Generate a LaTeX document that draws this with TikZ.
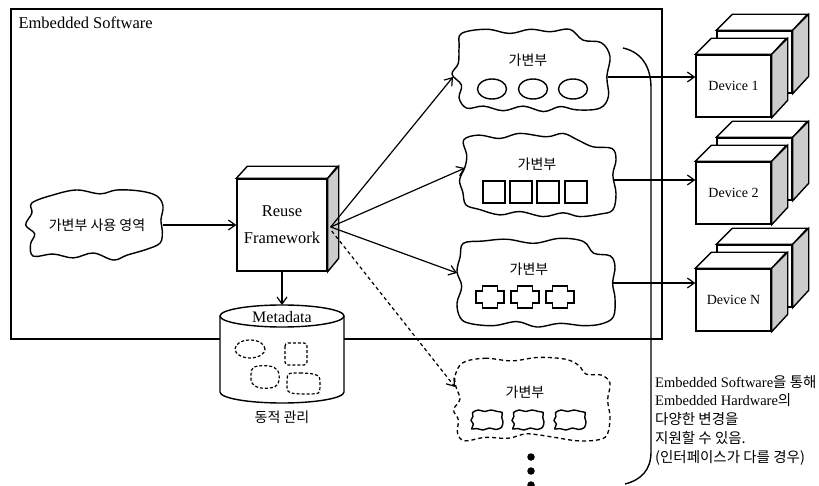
\documentclass[tikz,border=0pt]{standalone}
\usepackage{fontspec}
\setmainfont{Liberation Serif}
\newfontfamily\kr{Noto Sans CJK KR}
\usetikzlibrary{arrows.meta,calc,shapes.geometric}

\tikzset{
  ln/.style={line width=1.4pt},
  arr/.style={line width=1.2pt, -{Straight Barb[length=7pt,width=10pt,line width=1.2pt]}},
  darr/.style={arr, dash pattern=on 3.5pt off 3pt},
  solidcloud/.style={line width=1.4pt},
  dashcloud/.style={line width=1.3pt, dash pattern=on 4pt off 3pt},
  spot/.style={line width=1.2pt, dash pattern=on 3pt off 2pt},
  hold/.style={inner sep=0pt, outer sep=0pt},
  krlabel/.style={font=\kr\fontsize{14}{16}\selectfont},
  face/.style={draw, ln, fill=white},
  side/.style={draw, ln, fill=gray!40},
  unit/.style={face, inner sep=0pt, minimum width=75pt, minimum height=62pt,
               font=\fontsize{14}{16}\selectfont},
}

% wobbly outline around a helper node, points given in a unit box
\newcommand\cloudat[5]{%
  \begin{scope}[shift={(#2.center)}, xscale=#3, yscale=#4]
    \draw[#1] plot[smooth cycle, tension=0.6] coordinates {#5};
  \end{scope}}

% a stacked pair of boxes: name, centre x, centre y, label
\newcommand\devstack[4]{%
  \node[unit] (#1r) at ({#2+21},{#3-24}) {};
  \draw[face] (#1r.north west) -- ++(16,-16) -- ++(75,0) -- (#1r.north east) -- cycle;
  \draw[side] (#1r.north east) -- ++(16,-16) -- ++(0,62) -- (#1r.south east) -- cycle;
  \node[unit] (#1) at (#2,#3) {#4};
  \draw[face] (#1.north west) -- ++(16,-16) -- ++(75,0) -- (#1.north east) -- cycle;
  \draw[side] (#1.north east) -- ++(16,-16) -- ++(0,62) -- (#1.south east) -- cycle;
}

\newcommand\K[1]{{\kr\fontsize{14.5}{18.8}\selectfont #1}}

\begin{document}
\begin{tikzpicture}[x=1pt, y=-1pt]
\useasboundingbox (0,0) rectangle (819,486);

% software boundary
\node[draw, ln, hold, anchor=north west, minimum width=651pt, minimum height=330pt] (esw) at (11,9) {};
\node[anchor=west, font=\fontsize{16.5}{19}\selectfont] (eswlabel) at (15,23) {Embedded Software};

% usage area
\node[hold, minimum width=138pt, minimum height=70pt] (lc) at (94,225) {};
\cloudat{solidcloud}{lc}{69}{35}{(-0.90,-0.63) (-0.59,-0.86) (-0.25,-1.0) (0.09,-0.89) (0.33,-1.0) (0.67,-0.97) (0.91,-0.83) (1.0,-0.54) (0.97,-0.14) (0.99,0.17) (0.96,0.51) (0.77,0.69) (0.48,0.86) (0.28,1.0) (-0.01,0.80) (-0.30,0.94) (-0.59,0.83) (-0.88,0.89) (-0.92,0.55) (-0.86,0.25) (-0.99,0.0) (-0.90,-0.34)}
\node[krlabel] (lct) at ($(lc.center)+(3,0)$) {가변부 사용 영역};

% framework box
\node[face, align=center, minimum width=90pt, minimum height=92pt, inner sep=0pt,
      font=\fontsize{16.5}{27}\selectfont] (rf) at (282,225) {Reuse\\Framework};
\draw[face] (rf.north west) -- ++(11,-12) -- ++(90,0) -- (rf.north east) -- cycle;
\draw[side] (rf.north east) -- ++(11,-12) -- ++(0,92) -- (rf.south east) -- cycle;

% metadata store
\fill[white] (220,316) -- (220,392) arc[start angle=180, end angle=360, x radius=62pt, y radius=11pt] -- (344,316) -- cycle;
\draw[ln] (220,316) -- (220,392) arc[start angle=180, end angle=360, x radius=62pt, y radius=11pt] -- (344,316);
\node[ellipse, draw, ln, fill=white, hold, minimum width=124pt, minimum height=22pt] (md) at (282,316) {};
\node[font=\fontsize{16}{18}\selectfont] (mdt) at (282,317) {Metadata};
\draw[spot] (250,349) ellipse [x radius=15pt, y radius=9pt];
\draw[spot, rounded corners=3pt] (285,343) rectangle (307,365);
\begin{scope}[shift={(265,377)}, xscale=14, yscale=11]
  \draw[spot] plot[smooth cycle, tension=0.6] coordinates {(-0.8,-0.9) (0.3,-1) (0.9,-0.6) (1,0.3) (0.7,0.9) (-0.3,1) (-0.9,0.6) (-1,-0.2)};
\end{scope}
\begin{scope}[shift={(303.5,383.5)}, xscale=16.5, yscale=10.5]
  \draw[spot] plot[smooth cycle, tension=0.5] coordinates {(-0.9,-0.9) (-0.2,-1) (0.6,-0.9) (0.95,-0.6) (1,0.2) (0.9,0.9) (0.2,1) (-0.6,0.95) (-0.95,0.7) (-1,-0.1)};
\end{scope}
\node[krlabel] (mdlabel) at (282,417) {동적 관리};

% variable parts
\node[hold, minimum width=158pt, minimum height=84pt] (v1) at (531,70) {};
\cloudat{solidcloud}{v1}{79}{42}{(-0.88,-0.87) (-0.56,-0.97) (-0.27,-0.87) (-0.01,-0.97) (0.24,-0.91) (0.49,-0.97) (0.66,-0.71) (0.89,-0.65) (1.0,-0.32) (0.96,0.16) (0.98,0.63) (0.87,0.91) (0.58,0.95) (0.37,0.87) (0.16,0.99) (-0.10,0.86) (-0.35,0.97) (-0.60,0.86) (-0.81,0.91) (-0.91,0.67) (-0.88,0.36) (-1.0,0.10) (-0.92,-0.16) (-0.91,-0.56)}
\node[krlabel] (v1t) at ($(v1.center)+(-3,-10)$) {가변부};
\foreach \dx in {-39,2,42}
  \draw[ln] ($(v1.center)+(\dx,19)$) ellipse [x radius=14.5pt, y radius=10pt];

\node[hold, minimum width=158pt, minimum height=84pt] (v2) at (537,175) {};
\cloudat{solidcloud}{v2}{79}{42}{(-0.93,-0.83) (-0.74,-0.95) (-0.47,-0.87) (-0.22,-0.99) (0.12,-0.91) (0.33,-0.99) (0.52,-0.83) (0.71,-0.67) (0.95,-0.63) (1.0,-0.36) (0.96,0.0) (1.0,0.44) (0.96,0.83) (0.80,0.93) (0.54,0.99) (0.33,0.90) (0.08,0.99) (-0.22,0.87) (-0.47,0.95) (-0.73,0.82) (-0.90,0.71) (-0.94,0.40) (-0.98,0.12) (-0.91,-0.20) (-0.89,-0.48)}
\node[krlabel] (v2t) at ($(v2.center)+(0,-11)$) {가변부};
\foreach \dx in {-43,-16,11,39}
  \draw[ln] ($(v2.center)+(\dx-11,6)$) rectangle ++(22,22);

\node[hold, minimum width=158pt, minimum height=90pt] (v3) at (536,282) {};
\cloudat{solidcloud}{v3}{79}{45}{(-0.92,-0.86) (-0.67,-0.91) (-0.37,-0.95) (-0.03,-0.86) (0.30,-0.97) (0.60,-0.90) (0.73,-0.64) (0.94,-0.58) (1.0,-0.34) (0.97,0.03) (1.0,0.36) (0.98,0.77) (0.83,0.93) (0.60,0.97) (0.30,0.92) (0.01,1.0) (-0.24,0.88) (-0.54,0.97) (-0.84,0.92) (-0.96,0.79) (-1.0,0.47) (-0.94,0.10) (-1.0,-0.23) (-0.96,-0.56)}
\node[krlabel] (v3t) at ($(v3.center)+(-7,-13)$) {가변부};
\foreach \dx in {-46,-11,24}
  \draw[line width=1.5pt, shift={($(v3.center)+(\dx,15)$)}]
    (-7.5,-11) -- (7.5,-11) -- (7.5,-6) -- (14,-6) -- (14,6) -- (7.5,6) -- (7.5,11)
    -- (-7.5,11) -- (-7.5,6) -- (-14,6) -- (-14,-6) -- (-7.5,-6) -- cycle;

\node[hold, minimum width=158pt, minimum height=86pt] (v4) at (531,400) {};
\cloudat{dashcloud}{v4}{79}{43}{(-0.86,-0.87) (-0.58,-0.97) (-0.24,-0.91) (0.09,-0.99) (0.43,-0.95) (0.60,-0.81) (0.70,-0.60) (0.89,-0.58) (1.0,-0.39) (0.97,0.0) (1.0,0.39) (0.97,0.78) (0.87,0.92) (0.60,0.95) (0.30,0.87) (0.09,0.81) (-0.08,0.79) (-0.29,0.89) (-0.58,0.87) (-0.84,0.95) (-0.93,0.77) (-0.92,0.46) (-0.98,0.23) (-0.90,-0.02) (-0.95,-0.31) (-0.96,-0.57)}
\node[krlabel] (v4t) at ($(v4.center)+(-6,-8)$) {가변부};
\foreach \dx in {-44,-3,39} {
  \begin{scope}[shift={($(v4.center)+(\dx,20)$)}, xscale=16, yscale=10]
    \draw[ln] plot[smooth cycle, tension=0.5] coordinates {(-0.9,-0.75) (-0.55,-1.0) (-0.15,-0.85) (0.25,-1.0) (0.65,-0.85) (0.95,-0.75) (0.92,-0.25) (1.0,0.2) (0.9,0.75) (0.55,0.95) (0.15,0.8) (-0.25,1.0) (-0.65,0.85) (-0.95,0.9) (-0.85,0.4) (-1.0,0.05) (-0.88,-0.35)};
  \end{scope}}
\foreach \n/\yy in {1/457,2/471,3/485}
  \node[circle, fill, inner sep=0pt, minimum size=7.5pt] (more\n) at (531,\yy) {};

% hardware units
\devstack{d1}{733.5}{86}{Device 1}
\devstack{d2}{733.5}{193}{Device 2}
\devstack{dn}{733.5}{300}{Device N}

% connectors
\draw[arr] (lc.east) -- (rf.west);
\draw[arr] (rf.south) -- (md.north);
\draw[arr] ($(rf.east)+(3,2)$) -- ($(v1.center)+(-78,7)$);
\draw[arr] ($(rf.east)+(3,2)$) -- ($(v2.center)+(-72,-7)$);
\draw[arr] ($(rf.east)+(3,2)$) -- ($(v3.center)+(-79,-9)$);
\draw[darr] ($(rf.east)+(4,6)$) -- ($(v4.center)+(-76,-13)$);
\draw[arr] ($(v1.center)+(77,7)$) -- ($(d1.west)+(0,-9)$);
\draw[arr] ($(v2.center)+(77,5)$) -- ($(d2.west)+(0,-13)$);
\draw[arr] ($(v3.center)+(77,1)$) -- ($(dn.west)+(0,-17)$);

% grouping bracket
\coordinate (brtop) at (623,48);
\coordinate (brbot) at (625,484);
\draw[ln] (brtop) .. controls (641,52) and (651,66) .. (651,88) -- (651,452)
  .. controls (651,470) and (641,480) .. (brbot);

% note
\node[anchor=north west, align=left, inner sep=0pt, font=\fontsize{14.5}{18.8}\selectfont] (note) at (655,375)
  {Embedded Software\K{을 통해}\\
   Embedded Hardware\K{의}\\
   \K{다양한 변경을}\\
   \K{지원할 수 있음.}\\
   \K{(인터페이스가 다를 경우)}};
\end{tikzpicture}
\end{document}
